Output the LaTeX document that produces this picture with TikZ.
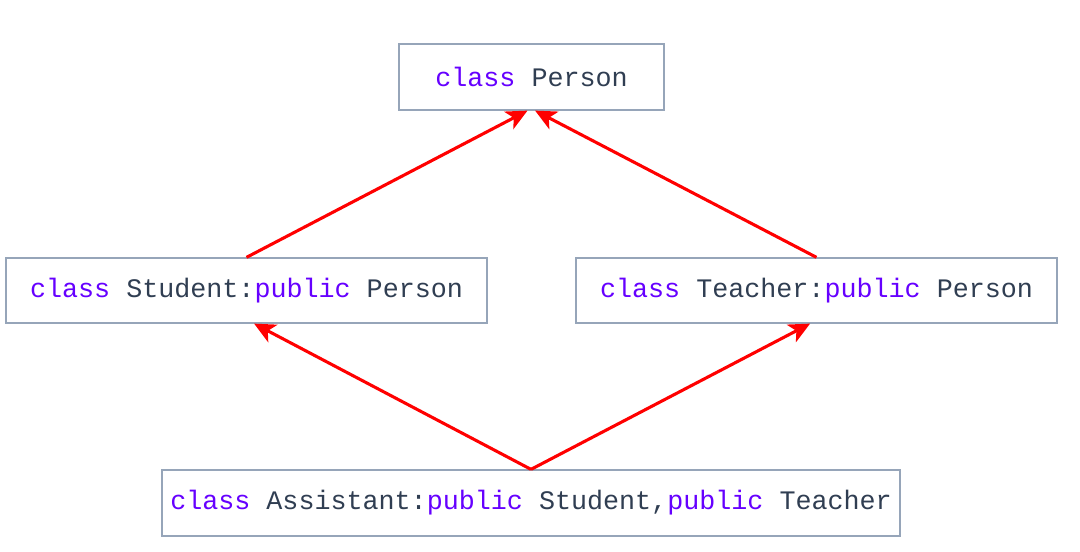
\documentclass[tikz,border=0pt]{standalone}
\usepackage{fontspec}
\setmonofont{Liberation Mono}
\usetikzlibrary{positioning,arrows.meta}
\definecolor{kw}{RGB}{102,0,255}
\definecolor{txt}{RGB}{48,62,82}
\definecolor{frame}{RGB}{150,165,185}
\tikzset{
  cls/.style={draw=frame,line width=0.9pt,fill=white,font=\fontsize{19}{22}\selectfont\ttfamily,text=txt,inner sep=0pt},
  ar/.style={-{Stealth[length=15pt,width=14pt,inset=4pt]},line width=2.2pt,red},
}
\newcommand{\kw}[1]{\textcolor{kw}{#1}}

\begin{document}
\begin{tikzpicture}[x=0.025cm,y=-0.025cm]
  \useasboundingbox (0,0) rectangle (1080,552);
  \node[cls,minimum width=265*0.025cm,minimum height=66*0.025cm] (person) at (531.5,77) {\kw{class} Person};
  \node[cls,minimum width=481*0.025cm,minimum height=65*0.025cm] (student) at (246.5,290.5) {\kw{class} Student:\kw{public} Person};
  \node[cls,minimum width=481*0.025cm,minimum height=65*0.025cm] (teacher) at (816.5,290.5) {\kw{class} Teacher:\kw{public} Person};
  \node[cls,minimum width=738*0.025cm,minimum height=66*0.025cm] (assist) at (531,503) {\kw{class} Assistant:\kw{public} Student,\kw{public} Teacher};
  % inheritance arrows
  \draw[ar] (student.north) -- ([xshift=-0.1cm]person.south);
  \draw[ar] (teacher.north) -- ([xshift=0.09cm]person.south);
  \draw[ar] (assist.north) -- ([xshift=0.19cm]student.south);
  \draw[ar] (assist.north) -- ([xshift=-0.16cm]teacher.south);
\end{tikzpicture}
\end{document}
